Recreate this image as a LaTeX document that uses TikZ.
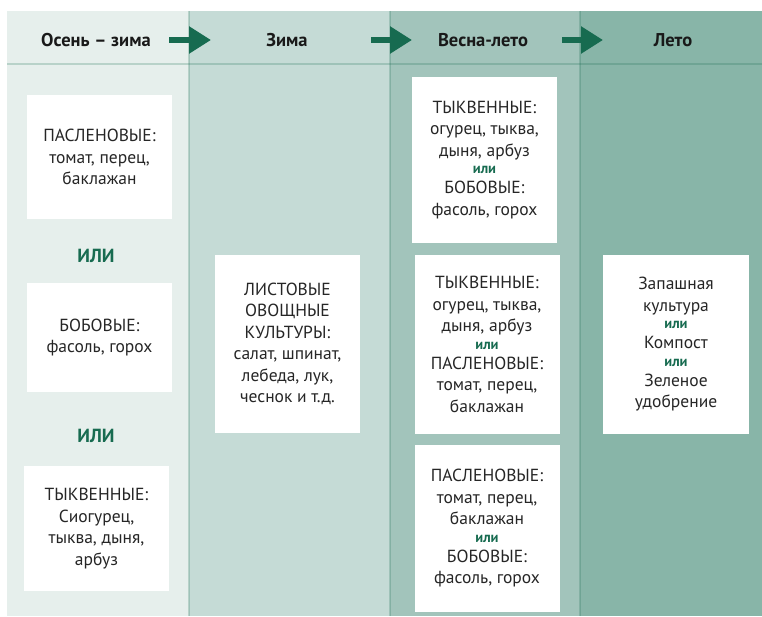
\documentclass[tikz,border=0pt]{standalone}
\usepackage{fontspec}
\setmainfont{PT Sans}
\usetikzlibrary{arrows.meta}

\definecolor{autumnbg}{HTML}{E6EFEC}
\definecolor{winterbg}{HTML}{C5DBD6}
\definecolor{springbg}{HTML}{A2C4BB}
\definecolor{summerbg}{HTML}{88B5A8}
\definecolor{leafgreen}{HTML}{176B50}
\definecolor{inkgray}{HTML}{262626}

% small green "или" inside the boxes
\newcommand\orsmall{{\fontsize{14.5}{14}\selectfont\bfseries\color{leafgreen}или}}

\begin{document}
\begin{tikzpicture}[
        x=1pt,
        y=-1pt,
        crop box/.style={fill=white, inner sep=0pt, outer sep=0pt, minimum width=145pt, align=center, text=inkgray, font=\fontsize{17.5}{21.5}\selectfont},
        season/.style={text=black!90, font=\fontsize{18.5}{20}\selectfont\bfseries},
        or word/.style={text=leafgreen, font=\fontsize{19}{20}\selectfont\bfseries},
        next arrow/.style={draw=leafgreen, line width=6pt, -{Triangle[length=22pt,width=26pt]}},
        column rule/.style={draw=leafgreen, opacity=0.22, line width=1.3pt}
    ]
    \useasboundingbox (0,0) rectangle (762,616);
    % columns
    \foreach \xa/\xb/\shade in {7/189/autumnbg, 189/390/winterbg, 390/580/springbg, 580/762/summerbg} {
            \fill[\shade] (\xa,11) rectangle (\xb,616);
        }
    \draw[column rule] (7,64) -- (762,64);
    \foreach \xr in {189,390,580} {
            \draw[column rule] (\xr,11) -- (\xr,616);
        }

    % header
    \foreach \name/\xc/\label in {autumn/96/Осень – зима, winter/287/Зима, spring/483/Весна-лето, summer/673/Лето} {
            \node[season] (\name) at (\xc,40) {\label};
        }
    \foreach \name/\xs/\xe in {one/169/211, two/371/412, three/562/603} {
            \coordinate (\name from) at (\xs,40);
            \coordinate (\name to) at (\xe,40);
            \draw[next arrow] (\name from) -- (\name to);
        }

    % autumn - winter
    \node[crop box, minimum height=124pt] (solanA) at (99.5,157) {ПАСЛЕНОВЫЕ:\\томат, перец,\\баклажан};
    \node[or word] (orA) at (96,256) {ИЛИ};
    \node[crop box, minimum height=109pt] (beanA) at (99.5,337.5) {БОБОВЫЕ:\\фасоль, горох};
    \node[or word] (orB) at (96,436) {ИЛИ};
    \node[crop box, minimum height=125pt] (gourdA) at (96.5,528.5) {ТЫКВЕННЫЕ:\\Сиогурец,\\тыква, дыня,\\арбуз};

    % winter
    \node[crop box, minimum height=178pt] (leafy) at (287.5,344) {ЛИСТОВЫЕ\\ОВОЩНЫЕ\\КУЛЬТУРЫ:\\салат, шпинат,\\лебеда, лук,\\чеснок и т.д.};

    % spring - summer
    \node[crop box, minimum height=166pt] (gourdB) at (484.5,160) {ТЫКВЕННЫЕ:\\огурец, тыква,\\дыня, арбуз\\[-4pt]\orsmall\\[-1.5pt]БОБОВЫЕ:\\фасоль, горох};
    \node[crop box, minimum height=179pt] (gourdC) at (487,344.5) {ТЫКВЕННЫЕ:\\огурец, тыква,\\дыня, арбуз\\[-4pt]\orsmall\\[-1.5pt]ПАСЛЕНОВЫЕ:\\томат, перец,\\баклажан};
    \node[crop box, minimum height=167pt] (solanB) at (487,528.5) {ПАСЛЕНОВЫЕ:\\томат, перец,\\баклажан\\[-4pt]\orsmall\\[-1.5pt]БОБОВЫЕ:\\фасоль, горох};

    % summer
    \node[crop box, minimum height=179pt, minimum width=146pt] (cover) at (676,344.5) {Запашная\\культура\\[-4pt]\orsmall\\[-1.5pt]Компост\\[-4pt]\orsmall\\[-1.5pt]Зеленое\\удобрение};
\end{tikzpicture}
\end{document}
